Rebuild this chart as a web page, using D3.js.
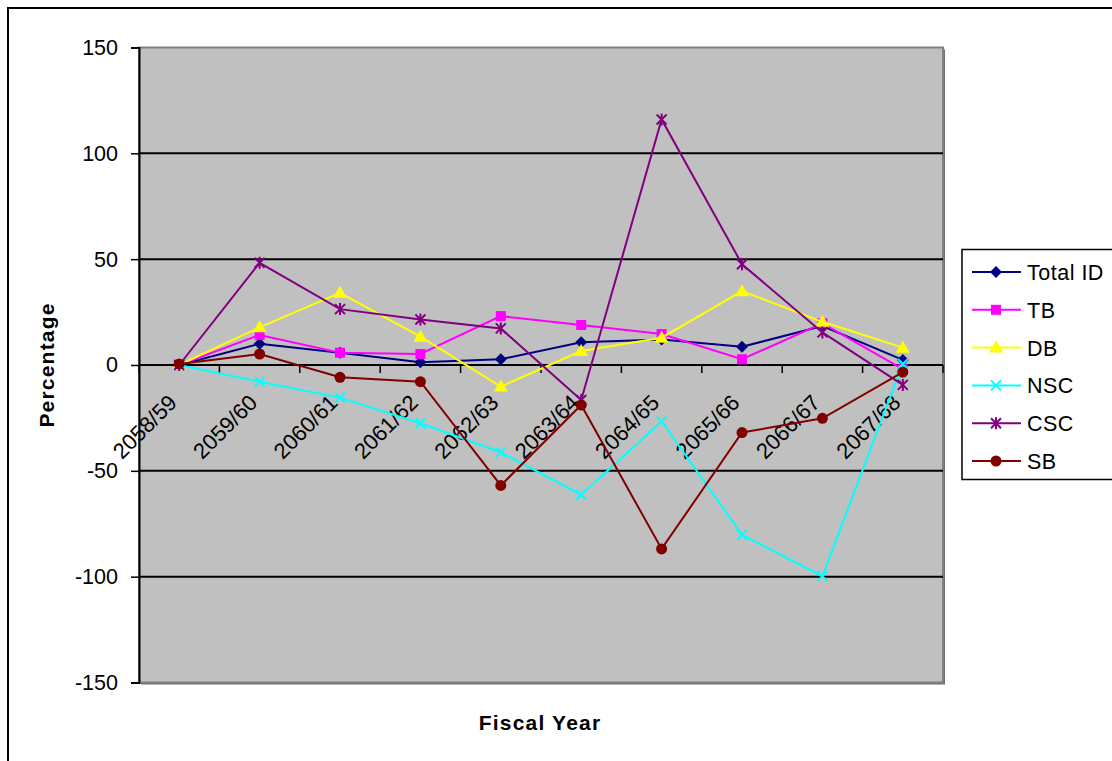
<!DOCTYPE html>
<html>
<head>
<meta charset="UTF-8">
<title>Percentage change by fiscal year</title>
<style>
    body { margin: 0; background: #fff; }
    svg { display: block; }
    text { font-family: 'Liberation Sans', Arial, sans-serif; fill: #000; }
</style>
</head>
<body>
<svg width="1112" height="761"></svg>
<script src="https://d3js.org/d3.v7.min.js"></script>
<script>
    // data
    let years = ["2058/59", "2059/60", "2060/61", "2061/62", "2062/63",
                 "2063/64", "2064/65", "2065/66", "2066/67", "2067/68"];
    let totalID = [0, 10, 5.8, 1.3, 2.7, 10.7, 12.1, 8.6, 18.4, 2.4];
    let tb = [0, 14.2, 5.8, 5.2, 23.1, 18.9, 14.6, 2.7, 19.7, -2];
    let db = [0, 17.8, 34.1, 13.4, -10.2, 6.6, 12.9, 34.9, 20.4, 8.2];
    let nsc = [0, -7.9, -15.4, -27.5, -41.2, -61.3, -26.7, -80.2, -99.8, 0.5];
    let csc = [0, 48.3, 26.4, 21.5, 17.3, -16.5, 116, 47.6, 15.4, -9.4];
    let sb = [0.5, 5.2, -5.8, -7.9, -56.9, -18.9, -86.9, -31.9, -25.2, -3.4];
    let yTicks = [-150, -100, -50, 0, 50, 100, 150];

    let series = [
        { name: "Total ID", values: totalID, color: "#000080", marker: "diamond" },
        { name: "TB", values: tb, color: "#FF00FF", marker: "square" },
        { name: "DB", values: db, color: "#FFFF00", marker: "triangle" },
        { name: "NSC", values: nsc, color: "#00FFFF", marker: "cross" },
        { name: "CSC", values: csc, color: "#800080", marker: "star" },
        { name: "SB", values: sb, color: "#800000", marker: "circle" }
    ];

    let svg = d3.select("svg");
    let plotLeft = 139, plotTop = 47.5, plotRight = 943, plotBottom = 682.5;

    // outer chart border
    svg.append("rect")
        .attr("x", 8).attr("y", 8)
        .attr("width", 1120).attr("height", 780)
        .attr("fill", "none").attr("stroke", "#000").attr("stroke-width", 2);

    let x = d3.scaleBand().domain(years).range([plotLeft, plotRight]);
    let y = d3.scaleLinear().domain([-150, 150]).range([plotBottom, plotTop]);

    // plot area (grey, with a darker edge on the right/bottom)
    svg.append("rect")
        .attr("x", plotLeft + 2).attr("y", plotTop + 2)
        .attr("width", plotRight - plotLeft).attr("height", plotBottom - plotTop)
        .attr("fill", "#707070");
    svg.append("rect")
        .attr("x", plotLeft).attr("y", plotTop)
        .attr("width", plotRight - plotLeft).attr("height", plotBottom - plotTop)
        .attr("fill", "#C0C0C0")
        .attr("stroke", "#808080").attr("stroke-width", 2);

    // gridlines
    svg.append("g")
        .selectAll("line")
        .data(yTicks.filter(d => d > -150 && d < 150))
        .enter().append("line")
        .attr("x1", plotLeft).attr("x2", plotRight)
        .attr("y1", d => y(d)).attr("y2", d => y(d))
        .attr("stroke", "#000").attr("stroke-width", 2);

    // y axis
    let yAxis = svg.append("g")
        .attr("transform", `translate(${plotLeft},0)`)
        .call(d3.axisLeft(y).tickValues(yTicks).tickFormat(d => String(d))
            .tickSize(8).tickPadding(13));
    yAxis.select(".domain").attr("stroke", "#000").attr("stroke-width", 2);
    yAxis.selectAll(".tick line").attr("stroke", "#000").attr("stroke-width", 1.5);
    yAxis.selectAll(".tick text")
        .attr("font-size", 21.5)
        .attr("font-family", "'Liberation Sans', Arial, sans-serif")
        .attr("fill", "#000");

    // x axis at zero, ticks at category boundaries
    let zeroY = y(0);
    let bounds = years.map(d => x(d)).concat([x(years[years.length - 1]) + x.bandwidth()]);
    svg.append("g")
        .selectAll("line")
        .data(bounds)
        .enter().append("line")
        .attr("x1", d => d).attr("x2", d => d)
        .attr("y1", zeroY).attr("y2", zeroY + 8)
        .attr("stroke", "#000").attr("stroke-width", 1.5);

    svg.append("g")
        .selectAll("text")
        .data(years)
        .enter().append("text")
        .attr("transform", d => `translate(${x(d) + x.bandwidth() / 2 - 1},${zeroY + 39}) rotate(-45)`)
        .attr("text-anchor", "end")
        .attr("font-size", 22)
        .text(d => d);

    // axis titles
    svg.append("text")
        .attr("transform", `translate(54,${(plotTop + plotBottom) / 2}) rotate(-90)`)
        .attr("text-anchor", "middle")
        .attr("font-size", 21)
        .attr("letter-spacing", 1.2)
        .attr("font-weight", "bold")
        .text("Percentage");

    svg.append("text")
        .attr("x", 540).attr("y", 730)
        .attr("text-anchor", "middle")
        .attr("font-size", 21)
        .attr("letter-spacing", 1.2)
        .attr("font-weight", "bold")
        .text("Fiscal Year");

    // marker drawing
    function drawMarker(g, type, color) {
        if (type === "diamond") {
            g.append("path").attr("d", "M0,-6L6,0L0,6L-6,0Z").attr("fill", color);
        } else if (type === "square") {
            g.append("rect").attr("x", -5).attr("y", -5).attr("width", 10).attr("height", 10).attr("fill", color);
        } else if (type === "triangle") {
            g.append("path").attr("d", "M0,-7L7,5L-7,5Z").attr("fill", color);
        } else if (type === "cross") {
            g.append("path").attr("d", "M-5,-5L5,5M-5,5L5,-5")
                .attr("stroke", color).attr("stroke-width", 2);
        } else if (type === "star") {
            g.append("path").attr("d", "M-5,-5L5,5M-5,5L5,-5M0,-6L0,6")
                .attr("stroke", color).attr("stroke-width", 2);
        } else if (type === "circle") {
            g.append("circle").attr("r", 5.5).attr("fill", color);
        }
    }

    let line = d3.line()
        .x((d, i) => x(years[i]) + x.bandwidth() / 2)
        .y(d => y(d));

    series.forEach(s => {
        let g = svg.append("g");
        g.append("path")
            .attr("d", line(s.values))
            .attr("fill", "none")
            .attr("stroke", s.color)
            .attr("stroke-width", 2);
        s.values.forEach((v, i) => {
            let m = g.append("g")
                .attr("transform", `translate(${x(years[i]) + x.bandwidth() / 2},${y(v)})`);
            drawMarker(m, s.marker, s.color);
        });
    });

    // legend
    let legend = svg.append("g");
    legend.append("rect")
        .attr("x", 962).attr("y", 249.5)
        .attr("width", 160).attr("height", 230)
        .attr("fill", "#fff").attr("stroke", "#000").attr("stroke-width", 1.5);

    series.forEach((s, i) => {
        let ly = 272 + i * 37.8;
        legend.append("line")
            .attr("x1", 972).attr("x2", 1021)
            .attr("y1", ly).attr("y2", ly)
            .attr("stroke", s.color).attr("stroke-width", 2);
        let m = legend.append("g").attr("transform", `translate(996,${ly})`);
        drawMarker(m, s.marker, s.color);
        legend.append("text")
            .attr("x", 1027).attr("y", ly + 8)
            .attr("font-size", 21.5)
            .attr("letter-spacing", 0.5)
            .text(s.name);
    });
</script>
</body>
</html>
